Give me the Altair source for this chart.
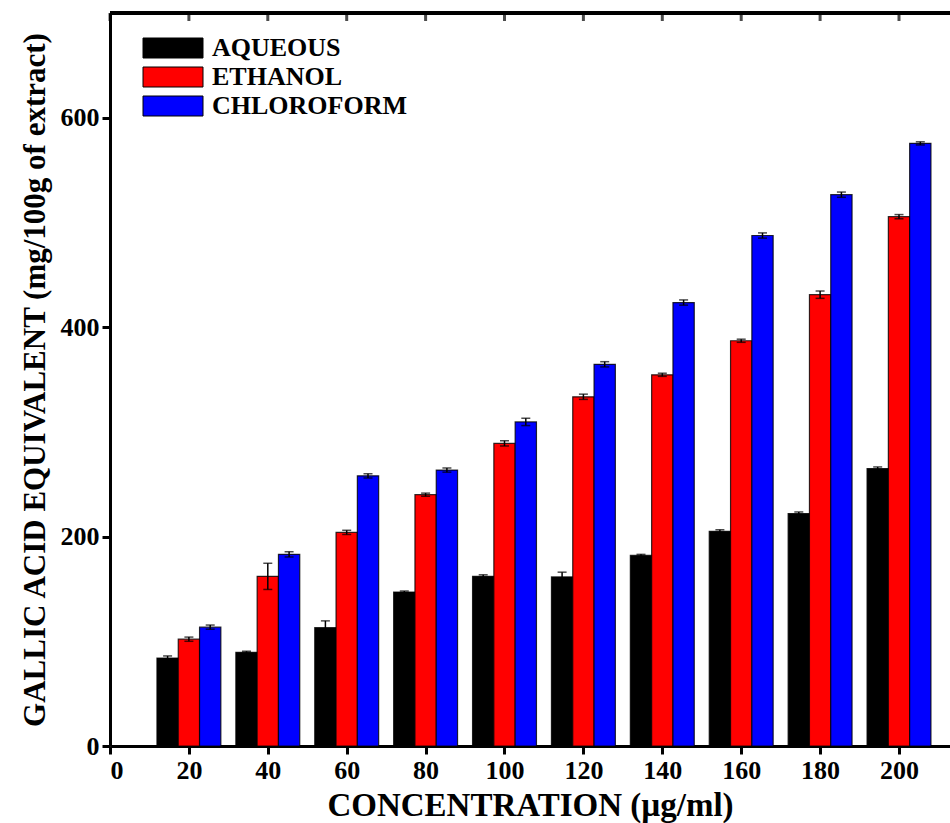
import altair as alt
import pandas as pd

conc = [20, 40, 60, 80, 100, 120, 140, 160, 180, 200]
series = ["AQUEOUS", "ETHANOL", "CHLOROFORM"]
colors = ["#000000", "#ff0000", "#0000ff"]

aqueous = [84, 89.5, 113, 147, 162, 161.5, 182, 205, 222, 265]
ethanol = [102, 162, 204, 240, 289, 333.5, 354.5, 387, 431, 505.5]
chloroform = [113.5, 183, 258, 263.5, 309.5, 364.5, 423.5, 487.5, 526.5, 575.5]

aqueous_err = [2, 1, 6.5, 1, 1.5, 4.5, 1, 1.5, 1.5, 1.5]
ethanol_err = [2, 12.5, 2, 1.5, 2.5, 2.5, 1.5, 1.5, 3.5, 2]
chloroform_err = [2, 2.5, 2, 2, 3.5, 2.5, 2.5, 2.5, 2.5, 1.5]

x_ticks = [0, 20, 40, 60, 80, 100, 120, 140, 160, 180, 200]
y_ticks = [0, 200, 400, 600]

rows = []
for idx, (name, vals, errs) in enumerate(
    zip(series, [aqueous, ethanol, chloroform], [aqueous_err, ethanol_err, chloroform_err])
):
    for c, v, e in zip(conc, vals, errs):
        rows.append({"conc": c, "series": name, "value": v, "err": e, "slot": idx - 1})
df = pd.DataFrame(rows)

BAR_W = 5.4
W, H = 840, 733
FONT = "Liberation Serif"

base = alt.Chart(df).transform_calculate(
    xc=f"datum.conc + datum.slot * {BAR_W}",
    x0=f"datum.conc + datum.slot * {BAR_W} - {BAR_W / 2}",
    x1=f"datum.conc + datum.slot * {BAR_W} + {BAR_W / 2}",
    lo="datum.value - datum.err",
    hi="datum.value + datum.err",
)

xscale = alt.Scale(domain=[0, W / (789.0 / 200)], nice=False, zero=False)
yscale = alt.Scale(domain=[0, 700], nice=False)

bars = base.mark_bar(stroke="black", strokeWidth=1.2, strokeOpacity=0.8).encode(
    x=alt.X(
        "x0:Q",
        scale=xscale,
        axis=alt.Axis(
            values=x_ticks,
            title="CONCENTRATION (µg/ml)",
            format="d",
            grid=False,
        ),
    ),
    x2="x1:Q",
    y=alt.Y(
        "value:Q",
        scale=yscale,
        axis=alt.Axis(
            values=y_ticks,
            title="GALLIC ACID EQUIVALENT (mg/100g of extract)",
            format="d",
            grid=False,
        ),
    ),
    y2=alt.datum(0),
    fill=alt.Fill(
        "series:N",
        scale=alt.Scale(domain=series, range=colors),
        legend=alt.Legend(
            title=None,
            orient="none",
            legendX=50,
            legendY=22,
            symbolType="M-3,-1L3,-1L3,1L-3,1Z",
            symbolSize=400,
            symbolStrokeColor="black",
            symbolStrokeWidth=1,
            symbolOpacity=1,
            labelFont=FONT,
            labelFontWeight="bold",
            labelFontSize=26,
            labelColor="black",
            labelOffset=26,
            labelLimit=400,
            rowPadding=3,
            padding=0,
        ),
    ),
)

err_rule = base.mark_rule(color="black", strokeWidth=1.5).encode(
    x="xc:Q", y="lo:Q", y2="hi:Q"
)
err_cap_hi = base.mark_tick(color="black", orient="horizontal", size=9, thickness=1.5).encode(
    x="xc:Q", y="hi:Q"
)
err_cap_lo = base.mark_tick(color="black", orient="horizontal", size=9, thickness=1.5).encode(
    x="xc:Q", y="lo:Q"
)

top_df = pd.DataFrame({"t": x_ticks})
top_border = alt.Chart(top_df).mark_rule(color="black", strokeWidth=3).encode(
    x=alt.value(0), x2=alt.value(W), y=alt.value(0)
)
top_ticks = alt.Chart(top_df).mark_tick(color="black", orient="vertical", size=8, thickness=3).encode(
    x=alt.X("t:Q", scale=xscale), y=alt.value(4)
)

chart = (
    alt.layer(bars, err_rule, err_cap_hi, err_cap_lo, top_border, top_ticks)
    .properties(
        width=W,
        height=H,
        autosize=alt.AutoSizeParams(type="none"),
        padding={"left": 110, "top": 13, "right": 0, "bottom": 77},
        background="white",
    )
    .configure_view(stroke=None)
    .configure_axis(
        domainColor="black",
        domainWidth=3,
        tickColor="black",
        tickWidth=3,
        tickSize=8,
        labelFont=FONT,
        labelFontWeight="bold",
        labelFontSize=26,
        labelColor="black",
        titleFont=FONT,
        titleFontWeight="bold",
        titleColor="black",
    )
    .configure_axisX(labelPadding=3, titleFontSize=33, titlePadding=6)
    .configure_axisY(labelPadding=3, titleFontSize=31, titlePadding=9)
)

chart.save("out.html", embed_options={"renderer": "svg", "actions": False})
